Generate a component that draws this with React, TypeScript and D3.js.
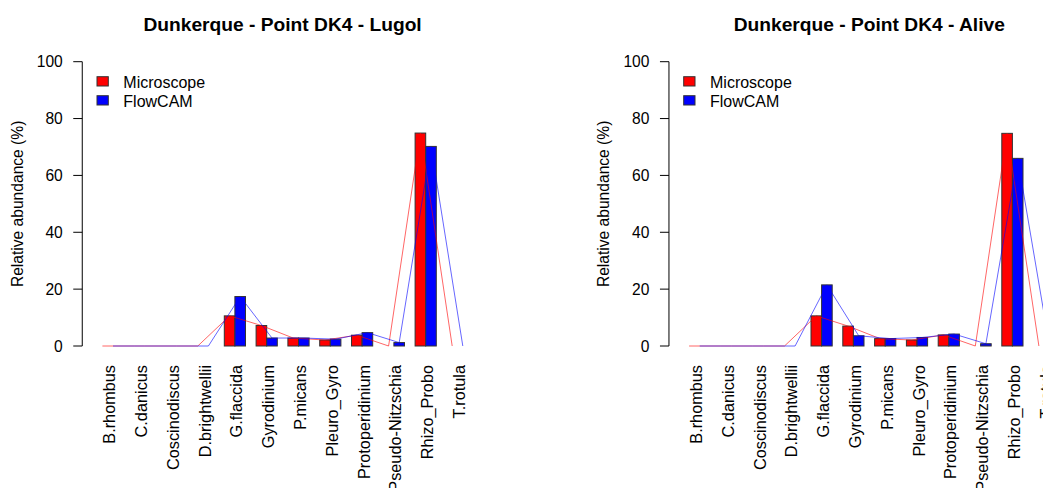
import React from "react";
import * as d3 from "d3";

const categories = [
  "B.rhombus", "C.danicus", "Coscinodiscus", "D.brightwellii", "G.flaccida", "Gyrodinium",
  "P.micans", "Pleuro_Gyro", "Protoperidinium", "Pseudo-Nitzschia", "Rhizo_Probo", "T.rotula",
];
const seriesNames = ["Microscope", "FlowCAM"];
const seriesColors = ["#ff0000", "#0000ff"];

const lugolMicroscope = [0, 0, 0, 0, 10.6, 7.2, 2.8, 2.1, 3.8, 0, 74.9, 0];
const lugolFlowcam = [0, 0, 0, 0, 17.4, 2.8, 2.8, 2.4, 4.7, 1.2, 70.2, 0];
const aliveMicroscope = [0, 0, 0, 0, 10.6, 7.0, 2.6, 2.1, 3.9, 0, 74.8, 0];
const aliveFlowcam = [0, 0, 0, 0, 21.5, 3.6, 2.6, 3.0, 4.2, 0.8, 66.0, 0];

const yTicks = [0, 20, 40, 60, 80, 100];

const panels = [
  { title: "Dunkerque - Point DK4 - Lugol", series: [lugolMicroscope, lugolFlowcam] },
  { title: "Dunkerque - Point DK4 - Alive", series: [aliveMicroscope, aliveFlowcam] },
];

const FONT = "'Liberation Sans', Arial, Helvetica, sans-serif";
const PANEL_W = 586.7;
const UNIT = 10.6;
const X0 = 86.5; // pixel of unit 0

function Panel({ title, series, offset }: { title: string; series: number[][]; offset: number }) {
  const unitScale = d3.scaleLinear().domain([0, 37]).range([X0, X0 + 37 * UNIT]);
  const plotLeft = unitScale(-0.4);
  const plotRight = unitScale(37.4);
  const xGroup = d3
    .scaleBand<string>()
    .domain(categories)
    .range([unitScale(0), unitScale(37)])
    .paddingInner(1 / 3)
    .paddingOuter(1 / 3);
  const xSeries = d3.scaleBand<number>().domain([0, 1]).range([0, xGroup.bandwidth()]);
  const y = d3.scaleLinear().domain([0, 100]).range([346, 61.7]);

  return (
    <g transform={`translate(${offset},0)`} fontFamily={FONT}>
      <text
        x={(plotLeft + plotRight) / 2}
        y={31}
        textAnchor="middle"
        fontWeight="bold"
        fontSize={19.2}
        fill="#000"
      >
        {title}
      </text>
      {/* y axis */}
      <line x1={plotLeft} x2={plotLeft} y1={y(0)} y2={y(100)} stroke="#000" strokeWidth={1} />
      {yTicks.map((t) => (
        <g key={t}>
          <line x1={plotLeft - 9} x2={plotLeft} y1={y(t)} y2={y(t)} stroke="#000" strokeWidth={1} />
          <text x={plotLeft - 19.5} y={y(t)} dy="0.36em" textAnchor="end" fontSize={15.6} fill="#000">
            {t}
          </text>
        </g>
      ))}
      <text
        transform={`translate(17,${(y(0) + y(100)) / 2}) rotate(-90)`}
        textAnchor="middle"
        dy="0.36em"
        fontSize={15.6}
        fill="#000"
      >
        Relative abundance (%)
      </text>
      {/* bars */}
      {categories.map((c, ci) => (
        <g key={c}>
          {series.map((s, si) => {
            const x = (xGroup(c) as number) + (xSeries(si) as number);
            return (
              <rect
                key={si}
                x={x}
                y={y(s[ci])}
                width={xSeries.bandwidth()}
                height={y(0) - y(s[ci])}
                fill={seriesColors[si]}
                stroke="#333"
                strokeWidth={1}
              />
            );
          })}
        </g>
      ))}
      {/* lines */}
      {series.map((s, si) => {
        const gen = d3
          .line<number>()
          .x((_, i) => (xGroup(categories[i]) as number) + (xSeries(si) as number) + xSeries.bandwidth() / 2)
          .y((d) => y(d));
        return (
          <path key={si} d={gen(s) as string} fill="none" stroke={seriesColors[si]} strokeOpacity={0.6} strokeWidth={1} />
        );
      })}
      {/* category labels */}
      {categories.map((c) => {
        const cx = (xGroup(c) as number) + xGroup.bandwidth() / 2;
        return (
          <text
            key={c}
            transform={`translate(${cx + 7.5},365) rotate(-90)`}
            textAnchor="end"
            fontSize={16.3}
            fill="#000"
          >
            {c}
          </text>
        );
      })}
      {/* legend */}
      {seriesNames.map((n, i) => (
        <g key={n}>
          <rect x={97} y={76.7 + i * 19} width={11.3} height={9.3} fill={seriesColors[i]} stroke="#333" strokeWidth={1} />
          <text x={123.3} y={88.3 + i * 19} fontSize={16} fill="#000">
            {n}
          </text>
        </g>
      ))}
    </g>
  );
}

export default function App() {
  return (
    <svg
      width={1043}
      height={488}
      style={{ position: "absolute", left: 0, top: 0, background: "#fff" }}
    >
      <rect width={1043} height={488} fill="#fff" />
      {panels.map((p, i) => (
        <Panel key={p.title} title={p.title} series={p.series} offset={i * PANEL_W} />
      ))}
    </svg>
  );
}
